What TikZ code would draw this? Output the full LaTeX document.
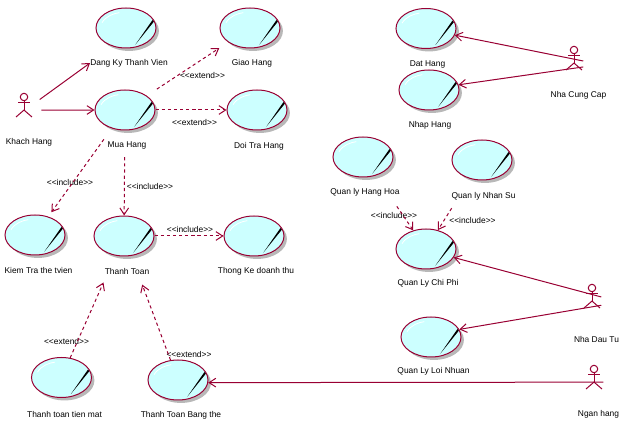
\documentclass[tikz,border=0pt]{standalone}
\usepackage{fontspec}
\setmainfont{Liberation Sans}
\usetikzlibrary{shapes.geometric,shadows,arrows.meta}
\definecolor{roseline}{HTML}{990033}
\definecolor{rosefill}{HTML}{CCFFFF}
\tikzset{
    usecase/.style={ellipse,draw=roseline,fill=rosefill,line width=.75pt,inner sep=0pt,
        minimum width=45pt,minimum height=30pt,
        drop shadow={shadow xshift=2.2pt,shadow yshift=-2.2pt,fill=black!28,opacity=1},
        path picture={
            \coordinate (c) at (path picture bounding box.center);
            \fill[black] ([shift={(21pt,4.9pt)}]c) -- ([shift={(19.8pt,5.9pt)}]c) -- ([shift={(7pt,-12.5pt)}]c) -- cycle;
            \draw[white,line width=.6pt] ([shift={(-18pt,4pt)}]c) .. controls ([shift={(-15pt,9pt)}]c) and ([shift={(-9pt,11pt)}]c) .. ([shift={(-5pt,11.5pt)}]c);
        }},
    actor/.style={rectangle,inner sep=0pt,minimum width=13.5pt,minimum height=21pt,
        path picture={
            \coordinate (c) at (path picture bounding box.center);
            \draw[roseline,line width=.75pt] ([shift={(0pt,6pt)}]c) circle (2.8pt);
            \draw[roseline,line width=.75pt] ([shift={(0pt,3.2pt)}]c) -- ([shift={(0pt,-3.8pt)}]c);
            \draw[roseline,line width=.75pt] ([shift={(-4.2pt,1.5pt)}]c) -- ([shift={(4.2pt,1.5pt)}]c);
            \draw[roseline,line width=.75pt] ([shift={(-6pt,-9pt)}]c) -- ([shift={(0pt,-3.8pt)}]c) -- ([shift={(6pt,-9pt)}]c);
        }},
    txt/.style={inner sep=0pt,font=\fontsize{6.3}{7.5}\selectfont,text=black},
    assoc/.style={draw=roseline,line width=.75pt,-{Straight Barb[length=5pt,width=6.5pt]}},
    dep/.style={assoc,dash pattern=on 2.4pt off 2.2pt}
}
\begin{document}
\begin{tikzpicture}[x=.75pt,y=-.75pt]
        \useasboundingbox (0,0) rectangle (626,424);
        \draw (126,28) node[usecase] (dangky) {};
        \draw (250,28) node[usecase] (giao) {};
        \draw (125,110) node[usecase] (mua) {};
        \draw (257,110) node[usecase] (doitra) {};
        \draw (35,235) node[usecase] (kiemtra) {};
        \draw (124,236) node[usecase] (thanhtoan) {};
        \draw (254,236) node[usecase] (thongke) {};
        \draw (61.5,377.5) node[usecase] (tienmat) {};
        \draw (178,380) node[usecase] (bangthe) {};
        \draw (426,28.5) node[usecase] (dathang) {};
        \draw (429,90) node[usecase] (nhap) {};
        \draw (363,157) node[usecase] (hanghoa) {};
        \draw (482,160) node[usecase] (nhansu) {};
        \draw (426,249) node[usecase] (chiphi) {};
        \draw (431,337) node[usecase] (loinhuan) {};

        \draw (24,105) node[actor] (khach) {};
        \draw (574,58) node[actor] (nhacungcap) {};
        \draw (592,296) node[actor] (nhadautu) {};
        \draw (594,377) node[actor] (nganhang) {};

        \draw (129,63) node[txt] (dangkylbl) {Dang Ky Thanh Vien};
        \draw (252,63) node[txt] (giaolbl) {Giao Hang};
        \draw (127,145) node[txt] (mualbl) {Mua Hang};
        \draw (259,146) node[txt] (doitralbl) {Doi Tra Hang};
        \draw (38.5,270.5) node[txt] (kiemtralbl) {Kiem Tra the tvien};
        \draw (127,271.5) node[txt] (thanhtoanlbl) {Thanh Toan};
        \draw (256,271) node[txt] (thongkelbl) {Thong Ke doanh thu};
        \draw (64.5,414) node[txt] (tienmatlbl) {Thanh toan tien mat};
        \draw (181,415.5) node[txt] (bangthelbl) {Thanh Toan Bang the};
        \draw (427.5,64) node[txt] (dathanglbl) {Dat Hang};
        \draw (430,125.5) node[txt] (nhaplbl) {Nhap Hang};
        \draw (365,192.5) node[txt] (hanghoalbl) {Quan ly Hang Hoa};
        \draw (483.5,196) node[txt] (nhansulbl) {Quan ly Nhan Su};
        \draw (428,283) node[txt] (chiphilbl) {Quan Ly Chi Phi};
        \draw (433.5,371.5) node[txt] (loinhuanlbl) {Quan Ly Loi Nhuan};
        \draw (29,142) node[txt] (khachlbl) {Khach Hang};
        \draw (578.5,95) node[txt] (nhacungcaplbl) {Nha Cung Cap};
        \draw (596.5,339) node[txt] (nhadautulbl) {Nha Dau Tu};
        \draw (598.5,414) node[txt] (nganhanglbl) {Ngan hang};

        \draw (202.5,76) node[txt] (extgiao) {<{}<extend>{}>};
        \draw (194.5,122) node[txt] (extdoitra) {<{}<extend>{}>};
        \draw (70,183) node[txt] (inckiemtra) {<{}<include>{}>};
        \draw (150,186) node[txt] (incthanhtoan) {<{}<include>{}>};
        \draw (190,229) node[txt] (incthongke) {<{}<include>{}>};
        \draw (66.5,341.5) node[txt] (exttienmat) {<{}<extend>{}>};
        \draw (189,354) node[txt] (extbangthe) {<{}<extend>{}>};
        \draw (394,215.5) node[txt] (inchanghoa) {<{}<include>{}>};
        \draw (472.5,220.5) node[txt] (incnhansu) {<{}<include>{}>};

        \draw[assoc,shorten <=6pt] (khach.5) -- (dangkylbl.west);
        \draw[assoc,shorten <=6pt] (khach.-29) -- (mua.west);
        \draw[assoc] (nganhang.-29) -- (bangthe.-5);
        \draw[assoc] (nhacungcap.-18) -- (dathang.-13);
        \draw[assoc] (nhacungcap.-44) -- (nhap.10);
        \draw[assoc] (nhadautu.-6) -- (chiphi.-17);
        \draw[assoc] (nhadautu.-45) -- (loinhuan.15);

        \draw[dep,shorten <=9pt,shorten >=8pt] (mua) -- (giao);
        \draw[dep] (mua.east) -- (doitra.west);
        \draw[dep,shorten <=10pt,shorten >=4pt] (mua) -- (kiemtra);
        \draw[dep,shorten <=20pt] (mua) -- (thanhtoan);
        \draw[dep] (thanhtoan.east) -- (thongke.west);
        \draw[dep,shorten >=22pt] (tienmat) -- (thanhtoan);
        \draw[dep,shorten >=23pt] (bangthe) -- (thanhtoan);
        \draw[dep,shorten <=28pt] (hanghoa) -- (chiphi);
        \draw[dep,shorten <=26pt] (nhansu) -- (chiphi);
\end{tikzpicture}
\end{document}
